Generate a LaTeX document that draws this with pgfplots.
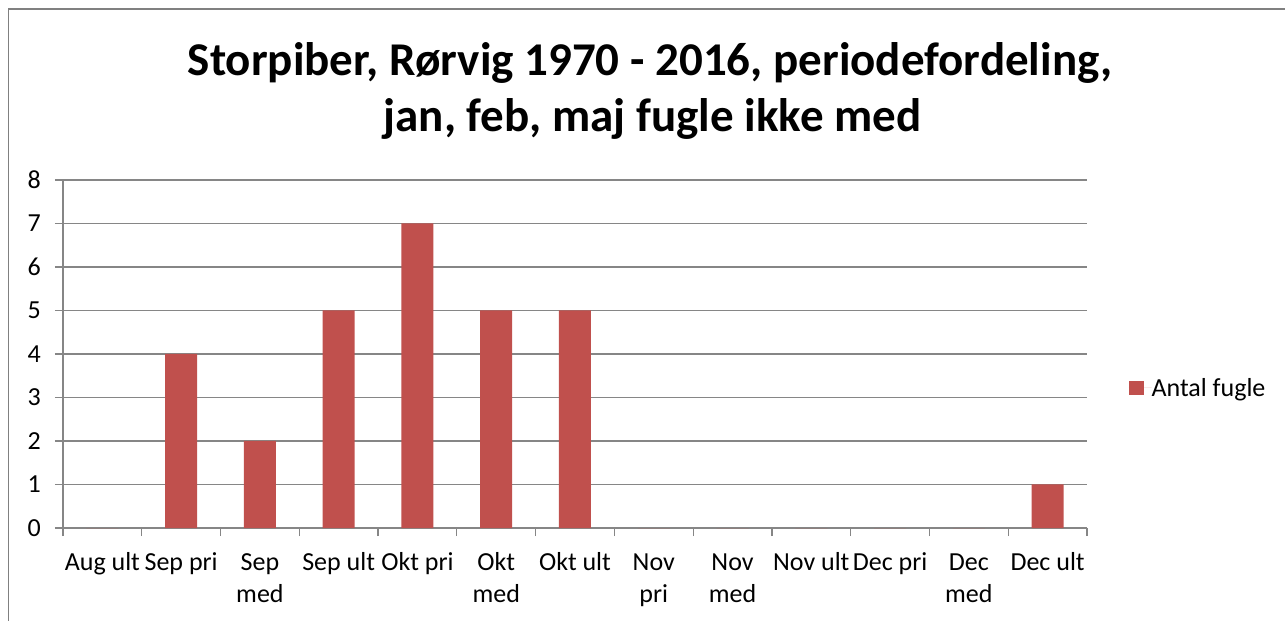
\documentclass[border=0pt]{standalone}
\usepackage{pgfplots}
\pgfplotsset{compat=1.18}
\usepackage{fontspec}
\setmainfont{Carlito}
\definecolor{barred}{RGB}{192,80,77}
\definecolor{gridgray}{RGB}{134,134,134}
\definecolor{framegray}{RGB}{128,128,128}
\begin{document}
\begin{tikzpicture}
\path[use as bounding box] (0bp,0bp) rectangle (1285bp,621bp);
\draw[framegray, line width=1.5bp] (8.5bp,0bp) -- (8.5bp,612bp) -- (1285bp,612bp);
\node[font=\fontsize{47bp}{57bp}\selectfont\bfseries, anchor=base, inner sep=0pt]
  at (650bp,545.3bp) {Storpiber, Rørvig 1970 - 2016, periodefordeling,};
\node[font=\fontsize{47bp}{57bp}\selectfont\bfseries, anchor=base, inner sep=0pt]
  at (652.5bp,489.3bp) {jan, feb, maj fugle ikke med};
\begin{axis}[
  at={(63bp,93bp)}, anchor=south west,
  scale only axis, width=1024bp, height=348bp,
  ybar, bar width=32bp,
  xmin=-0.5, xmax=12.5, ymin=0, ymax=8,
  axis lines=left, axis line style={gridgray, line width=1.2bp, -},
  xtick={0,...,12},
  xticklabels={{\strut Aug ult},{\strut Sep pri},{\strut Sep\\\strut med},{\strut Sep ult},{\strut Okt pri},{\strut Okt\\\strut med},{\strut Okt ult},{\strut Nov\\\strut pri},{\strut Nov\\\strut med},{\strut Nov ult},{\strut Dec pri},{\strut Dec\\\strut med},{\strut Dec ult}},
  minor xtick={-0.5,0.5,...,12.5},
  ytick={0,...,8},
  ymajorgrids=true,
  grid style={gridgray, line width=1.2bp},
  tick align=outside,
  major tick length=8bp, minor tick length=8bp,
  major x tick style={draw=none},
  every tick/.style={gridgray, line width=1.2bp},
  tick label style={font=\fontsize{26bp}{32bp}\selectfont},
  /pgf/number format/assume math mode=true,
  xticklabel style={align=center, anchor=north, inner sep=0pt, yshift=-12bp},
  yticklabel style={anchor=east, inner sep=0pt, xshift=-14bp},
  legend style={at={(1.0410,0.4023)}, anchor=west, draw=none, fill=none, inner sep=0pt, outer sep=0pt,
    font=\fontsize{26bp}{32bp}\selectfont, nodes={inner sep=0pt}},
  legend image code/.code={\fill[barred] (0bp,-7.3bp) rectangle (14.6bp,7.3bp); \path (0bp,0bp) -- (22.6bp,0bp);},
  clip=false,
]
\addplot[fill=barred, draw=none] coordinates {
  (0,0) (1,4) (2,2) (3,5) (4,7) (5,5) (6,5) (7,0) (8,0) (9,0) (10,0) (11,0) (12,1)
};
\addlegendentry{Antal fugle}
\end{axis}
\end{tikzpicture}
\end{document}
